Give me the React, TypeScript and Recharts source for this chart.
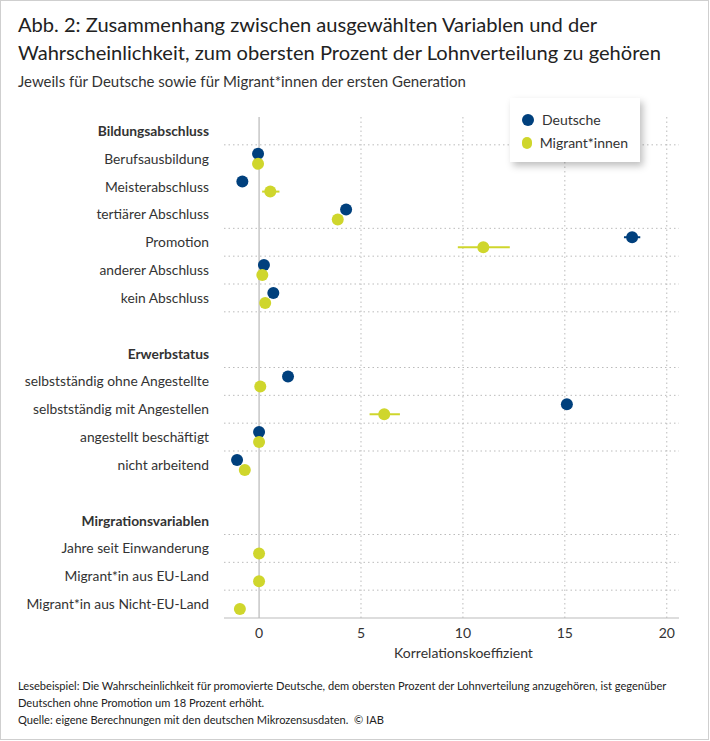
import * as React from "react";
import {
  ScatterChart, Scatter, XAxis, YAxis, ReferenceLine, ErrorBar, Legend,
} from "recharts";

const categories = [
  "Bildungsabschluss",
  "Berufsausbildung",
  "Meisterabschluss",
  "tertiärer Abschluss",
  "Promotion",
  "anderer Abschluss",
  "kein Abschluss",
  "",
  "Erwerbstatus",
  "selbstständig ohne Angestellte",
  "selbstständig mit Angestellen",
  "angestellt beschäftigt",
  "nicht arbeitend",
  " ",
  "Mirgrationsvariablen",
  "Jahre seit Einwanderung",
  "Migrant*in aus EU-Land",
  "Migrant*in aus Nicht-EU-Land",
];

const groupHeaders = ["Bildungsabschluss", "Erwerbstatus", "Mirgrationsvariablen"];

const deutscheValues = [null, -0.05, -0.82, 4.27, 18.3, 0.24, 0.7, null, null, 1.42, 15.1, 0.0, -1.08, null, null, null, null, null];
const deutscheErrors = [null, [0, 0], [0, 0], [0, 0], [0.4, 0.4], [0, 0], [0, 0], null, null, [0, 0], [0, 0], [0, 0], [0, 0], null, null, null, null, null];

const migrantValues = [null, -0.05, 0.55, 3.86, 11.0, 0.16, 0.3, null, null, 0.06, 6.14, 0.0, -0.7, null, null, 0.0, 0.0, -0.94];
const migrantErrors = [null, [0, 0], [0.4, 0.45], [0, 0], [1.25, 1.3], [0, 0], [0, 0], null, null, [0, 0], [0.72, 0.77], [0, 0], [0, 0], null, null, [0, 0], [0, 0], [0, 0]];

const xTicks = [0, 5, 10, 15, 20];
const dividerRows = [0.5, 3.5, 4.5, 5.5, 6.5, 8.5, 9.5, 10.5, 11.5, 14.5, 15.5, 16.5];

const BLUE = "#00407d";
const LIME = "#cfd62c";
const FONT = "Lato, 'Noto Sans', sans-serif";

const buildSeries = (values: (number | null)[], errors: any[], shift: number) =>
  values
    .map((v, i) => ({ x: v, y: i + shift, err: errors[i], name: categories[i] }))
    .filter((d) => d.x !== null);

const deutscheData = buildSeries(deutscheValues, deutscheErrors, -0.18);
const migrantData = buildSeries(migrantValues, migrantErrors, 0.18);

function RowTick({ x, y, payload }: any) {
  const label = categories[payload.value] || "";
  const bold = groupHeaders.includes(label);
  return (
    <text x={x} y={y} dy={5} textAnchor="end" fontSize={13.8} fontFamily={FONT}
      fontWeight={bold ? 700 : 400} fill="#333">
      {label}
    </text>
  );
}

const dot = (color: string) => (props: any) => (
  <circle cx={props.cx} cy={props.cy} r={6} fill={color} />
);

function LegendBox() {
  const items = [
    { label: "Deutsche", color: BLUE },
    { label: "Migrant*innen", color: LIME },
  ];
  return (
    <div style={{
      background: "#fff", boxShadow: "3px 4px 7px rgba(0,0,0,0.25)",
      padding: "10px 12px 8px 12px", fontFamily: FONT, fontSize: 14, color: "#333",
    }}>
      {items.map((it) => (
        <div key={it.label} style={{ display: "flex", alignItems: "center", height: 23 }}>
          <span style={{ width: 12, height: 12, borderRadius: 6, background: it.color, marginRight: 8 }} />
          {it.label}
        </div>
      ))}
    </div>
  );
}

export default function App() {
  return (
    <div style={{
      position: "relative", width: 709, height: 740, boxSizing: "border-box",
      border: "1px solid #cfcfcf", background: "#fff", fontFamily: FONT,
    }}>
      <style>{`body{margin:0}`}</style>
      <div style={{ position: "absolute", left: 17, top: 9, fontSize: 20.1, lineHeight: "28px", color: "#222", whiteSpace: "nowrap" }}>
        Abb. 2: Zusammenhang zwischen ausgewählten Variablen und der<br />
        Wahrscheinlichkeit, zum obersten Prozent der Lohnverteilung zu gehören
      </div>
      <div style={{ position: "absolute", left: 17, top: 71, fontSize: 15, color: "#333", whiteSpace: "nowrap" }}>
        Jeweils für Deutsche sowie für Migrant*innen der ersten Generation
      </div>

      <div style={{ position: "absolute", left: -1, top: -1 }}>
        <ScatterChart width={710} height={741} margin={{ top: 117, right: 31, bottom: 73, left: 0 }}>
          {xTicks.filter((t) => t !== 0).map((t) => (
            <ReferenceLine key={`v${t}`} x={t} stroke="#bbb" strokeDasharray="1.5 3" />
          ))}
          {dividerRows.map((r) => (
            <ReferenceLine key={`h${r}`} y={r} stroke="#bbb" strokeDasharray="1.5 3" />
          ))}
          <ReferenceLine x={0} stroke="#aaa" strokeWidth={1} />
          <XAxis
            type="number" dataKey="x" domain={[-1.72, 20.6]} ticks={xTicks} allowDataOverflow
            height={50} tickLine={false} axisLine={{ stroke: "#bbb" }} tickMargin={4}
            tick={{ fontSize: 14, fill: "#333", fontFamily: FONT }}
            label={{ value: "Korrelationskoeffizient", position: "insideBottom", offset: 10, dx: 12, fontSize: 14, fill: "#333", fontFamily: FONT }}
          />
          <YAxis
            type="number" dataKey="y" domain={[-0.5, 17.5]} reversed allowDataOverflow
            ticks={categories.map((_, i) => i)} interval={0} width={224}
            axisLine={false} tickLine={false} tickSize={6} tickMargin={9} tick={<RowTick />}
          />
          <Legend
            layout="vertical" align="center" verticalAlign="middle"
            wrapperStyle={{ left: 510, top: 98, width: 130 }}
            content={() => <LegendBox />}
          />
          <Scatter name="Deutsche" data={deutscheData} fill={BLUE} shape={dot(BLUE)} isAnimationActive={false}>
            <ErrorBar dataKey="err" direction="x" width={0} stroke={BLUE} strokeWidth={2} />
          </Scatter>
          <Scatter name="Migrant*innen" data={migrantData} fill={LIME} shape={dot(LIME)} isAnimationActive={false}>
            <ErrorBar dataKey="err" direction="x" width={0} stroke={LIME} strokeWidth={2} />
          </Scatter>
        </ScatterChart>
      </div>

      <div style={{ position: "absolute", left: 17, top: 676, fontSize: 11.1, lineHeight: "17px", color: "#222", whiteSpace: "nowrap" }}>
        Lesebeispiel: Die Wahrscheinlichkeit für promovierte Deutsche, dem obersten Prozent der Lohnverteilung anzugehören, ist gegenüber<br />
        Deutschen ohne Promotion um 18 Prozent erhöht.<br />
        Quelle: eigene Berechnungen mit den deutschen Mikrozensusdaten.&nbsp; © IAB
      </div>
    </div>
  );
}
